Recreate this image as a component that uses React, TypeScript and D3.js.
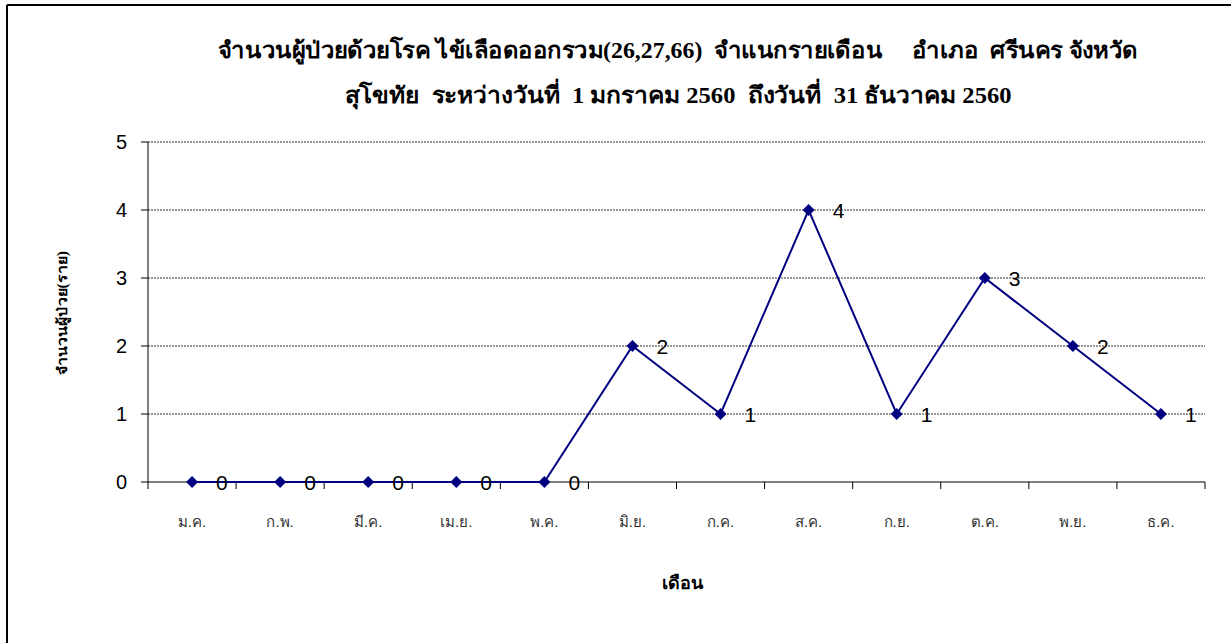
import React from "react";
import * as d3 from "d3";

const months = ["ม.ค.", "ก.พ.", "มี.ค.", "เม.ย.", "พ.ค.", "มิ.ย.", "ก.ค.", "ส.ค.", "ก.ย.", "ต.ค.", "พ.ย.", "ธ.ค."];
const cases = [0, 0, 0, 0, 0, 2, 1, 4, 1, 3, 2, 1];
const yTicks = [0, 1, 2, 3, 4, 5];
const titleLines = [
  "จำนวนผู้ป่วยด้วยโรค ไข้เลือดออกรวม(26,27,66)  จำแนกรายเดือน     อำเภอ  ศรีนคร จังหวัด",
  "สุโขทัย  ระหว่างวันที่  1 มกราคม 2560  ถึงวันที่  31 ธันวาคม 2560",
];
const titleWidths = [920, 667];
const yTitle = "จำนวนผู้ป่วย(ราย)";
const xTitle = "เดือน";

export default function App() {
  const W = 1231, H = 643;
  const left = 148, right = 1205, top = 142, bottom = 482;
  const x = d3.scaleBand<string>().domain(months).range([left, right]);
  const y = d3.scaleLinear().domain([0, 5]).range([bottom, top]);
  const line = d3.line<number>()
    .x((_, i) => (x(months[i]) as number) + x.bandwidth() / 2)
    .y((d) => y(d));
  const boundaries = d3.range(months.length + 1).map((i) => left + i * x.step());
  const serif = "'Liberation Serif', 'Times New Roman', serif";
  const sans = "'Liberation Sans', Arial, sans-serif";
  return (
    <svg width={W} height={H} style={{ position: "absolute", left: 0, top: 0, background: "#fff" }}>
      <rect x={0} y={0} width={W} height={H} fill="#fff" />
      <line x1={7} y1={5} x2={W} y2={5} stroke="#000" strokeWidth={2} />
      <line x1={7} y1={5} x2={7} y2={H} stroke="#000" strokeWidth={2} />
      {titleLines.map((t, i) => (
        <text key={i} x={678} y={58 + i * 45} textAnchor="middle" fontFamily={serif} fontWeight="bold" fontSize={23}
          textLength={titleWidths[i]} lengthAdjust="spacingAndGlyphs" fill="#000" style={{ whiteSpace: "pre" }}>
          {t}
        </text>
      ))}
      {yTicks.filter((v) => v > 0).map((v) => (
        <line key={v} x1={left} x2={right} y1={y(v)} y2={y(v)} stroke="#333" strokeWidth={1} strokeDasharray="2,1" />
      ))}
      <line x1={left} x2={left} y1={top} y2={bottom} stroke="#000" />
      <line x1={left} x2={right} y1={bottom} y2={bottom} stroke="#000" />
      {yTicks.map((v) => (
        <g key={v}>
          <line x1={left - 7} x2={left} y1={y(v)} y2={y(v)} stroke="#000" />
          <text x={127} y={y(v) + 7} textAnchor="end" fontFamily={sans} fontSize={20} fill="#000">{v}</text>
        </g>
      ))}
      {boundaries.map((b, i) => (
        <line key={i} x1={b} x2={b} y1={bottom} y2={bottom + 7} stroke="#000" />
      ))}
      {months.map((m) => (
        <text key={m} x={(x(m) as number) + x.bandwidth() / 2} y={527} textAnchor="middle" fontFamily={sans} fontSize={15} fill="#333">{m}</text>
      ))}
      <path d={line(cases) || ""} fill="none" stroke="#000080" strokeWidth={2} />
      {cases.map((v, i) => {
        const cx = (x(months[i]) as number) + x.bandwidth() / 2;
        const cy = y(v);
        return (
          <g key={i}>
            <path d={`M${cx},${cy - 6}L${cx + 6},${cy}L${cx},${cy + 6}L${cx - 6},${cy}Z`} fill="#000080" />
            <text x={cx + 24} y={cy + 8} fontFamily={sans} fontSize={21} fill="#000">{v}</text>
          </g>
        );
      })}
      <text x={682} y={589} textAnchor="middle" fontFamily={serif} fontWeight="bold" fontSize={18} fill="#000">{xTitle}</text>
      <text transform={`translate(67,313) rotate(-90)`} textAnchor="middle" fontFamily={serif} fontWeight="bold" fontSize={14}
        textLength={124} lengthAdjust="spacingAndGlyphs" fill="#000">{yTitle}</text>
    </svg>
  );
}
